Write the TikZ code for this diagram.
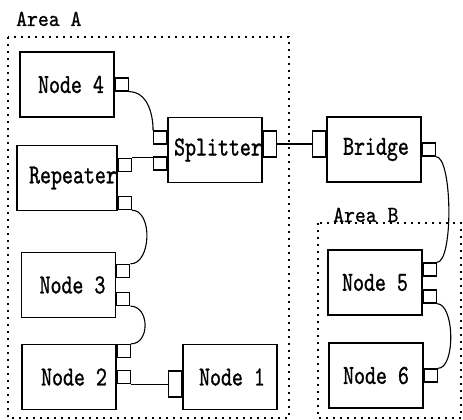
\documentclass[tikz,border=0pt]{standalone}
\usepackage{fontspec}
\newfontfamily\netfont[FakeStretch=0.76,FakeBold=1]{lmmono10-regular.otf}
\newfontfamily\areafont[FakeStretch=0.9,FakeBold=0.8]{lmmono10-regular.otf}
\usetikzlibrary{calc}
\tikzset{
  box/.style={draw, line width=1.3pt, minimum width=94pt, minimum height=65pt, inner sep=0pt, font=\netfont\fontsize{27.5}{27.5}\selectfont},
  port/.style={draw, line width=1.3pt, minimum width=13pt, minimum height=13pt, inner sep=0pt},
  tallport/.style={port, minimum height=26pt},
  wire/.style={line width=1.1pt},
  area/.style={line width=1.8pt, dash pattern=on 2pt off 5pt},
  arealabel/.style={font=\areafont\fontsize{23}{23}\selectfont, anchor=base west, inner sep=0pt}
}

\begin{document}
\begin{tikzpicture}[x=1pt,y=-1pt]
		\useasboundingbox (0,0) rectangle (463,420);
		\draw[area] (8,37) rectangle (289,418);
		\draw[area] (318,223) rectangle (461,418);
		\node[arealabel] (areaA) at (16,26) {Area A};
		\node[arealabel] (areaB) at (333,222) {Area B};
		
		\node[box] (n4) at (67,84.5) {\hspace*{8pt}Node 4};
		\node[box] (rep) at (67,178) {\hspace*{12pt}\raisebox{-4pt}{Repeater}};
		\node[box] (sp) at (215,150) {\hspace*{6pt}Splitter};
		\node[box] (br) at (374,149.5) {\hspace*{4pt}\raisebox{3pt}{Bridge}};
		\node[box] (n3) at (68.5,285) {\hspace*{8pt}Node 3};
		\node[box] (n2) at (69,377) {\hspace*{10pt}\raisebox{-6pt}{Node 2}};
		\node[box] (n1) at (230,377) {\hspace*{4pt}\raisebox{-5pt}{Node 1}};
		\node[box] (n5) at (375,282.5) {Node 5};
		\node[box] (n6) at (376,375.5) {\raisebox{-5pt}{Node 6}};
		
		\node[port, anchor=west] (n4p) at (n4.east) {};
		\node[port, anchor=north west] (rp1) at ($(rep.north east)+(0,13)$) {};
		\node[port, anchor=south west] (rp2) at ($(rep.south east)+(0,-1)$) {};
		\node[port, anchor=east] (sp1) at ($(sp.west)+(0,-12.5)$) {};
		\node[port, anchor=east] (sp2) at ($(sp.west)+(0,13.5)$) {};
		\node[tallport, anchor=west] (spo) at ($(sp.east)+(0,-6)$) {};
		\node[tallport, anchor=east] (brp1) at ($(br.west)+(0,-5.5)$) {};
		\node[port, anchor=west] (brp2) at (br.east) {};
		\node[port, anchor=west] (n3p1) at ($(n3.east)+(0,-14)$) {};
		\node[port, anchor=west] (n3p2) at ($(n3.east)+(0,14)$) {};
		\node[port, anchor=north west] (n2p1) at (n2.north east) {};
		\node[port, anchor=west] (n2p2) at (n2.east) {};
		\node[tallport, anchor=east] (n1p) at ($(n1.west)+(0,7)$) {};
		\node[port, anchor=west] (n5p1) at ($(n5.east)+(0,-13)$) {};
		\node[port, anchor=west] (n5p2) at ($(n5.east)+(0,14)$) {};
		\node[port, anchor=west] (n6p) at (n6.east) {};
		
		\draw[wire] (n4p.south east) to[out=0,in=90] (sp1.north west);
		\draw[wire] (rp1.north east) -- (rp1.north east -| sp2.west);
		\draw[wire] (spo.east) -- (brp1.west);
		\draw[wire] (rp2.south east) to[out=0,in=0] (n3p1.north east);
		\draw[wire] (n3p2.south east) to[out=0,in=0,looseness=1.3] (n2p1.north east);
		\draw[wire] (n2p2.south east) -- (n2p2.south east -| n1p.west);
		\draw[wire] (brp2.south east) to[out=0,in=0,looseness=0.4] (n5p1.north east);
		\draw[wire] (n5p2.south east) to[out=0,in=0,looseness=0.7] (n6p.north east);
\end{tikzpicture}
\end{document}
